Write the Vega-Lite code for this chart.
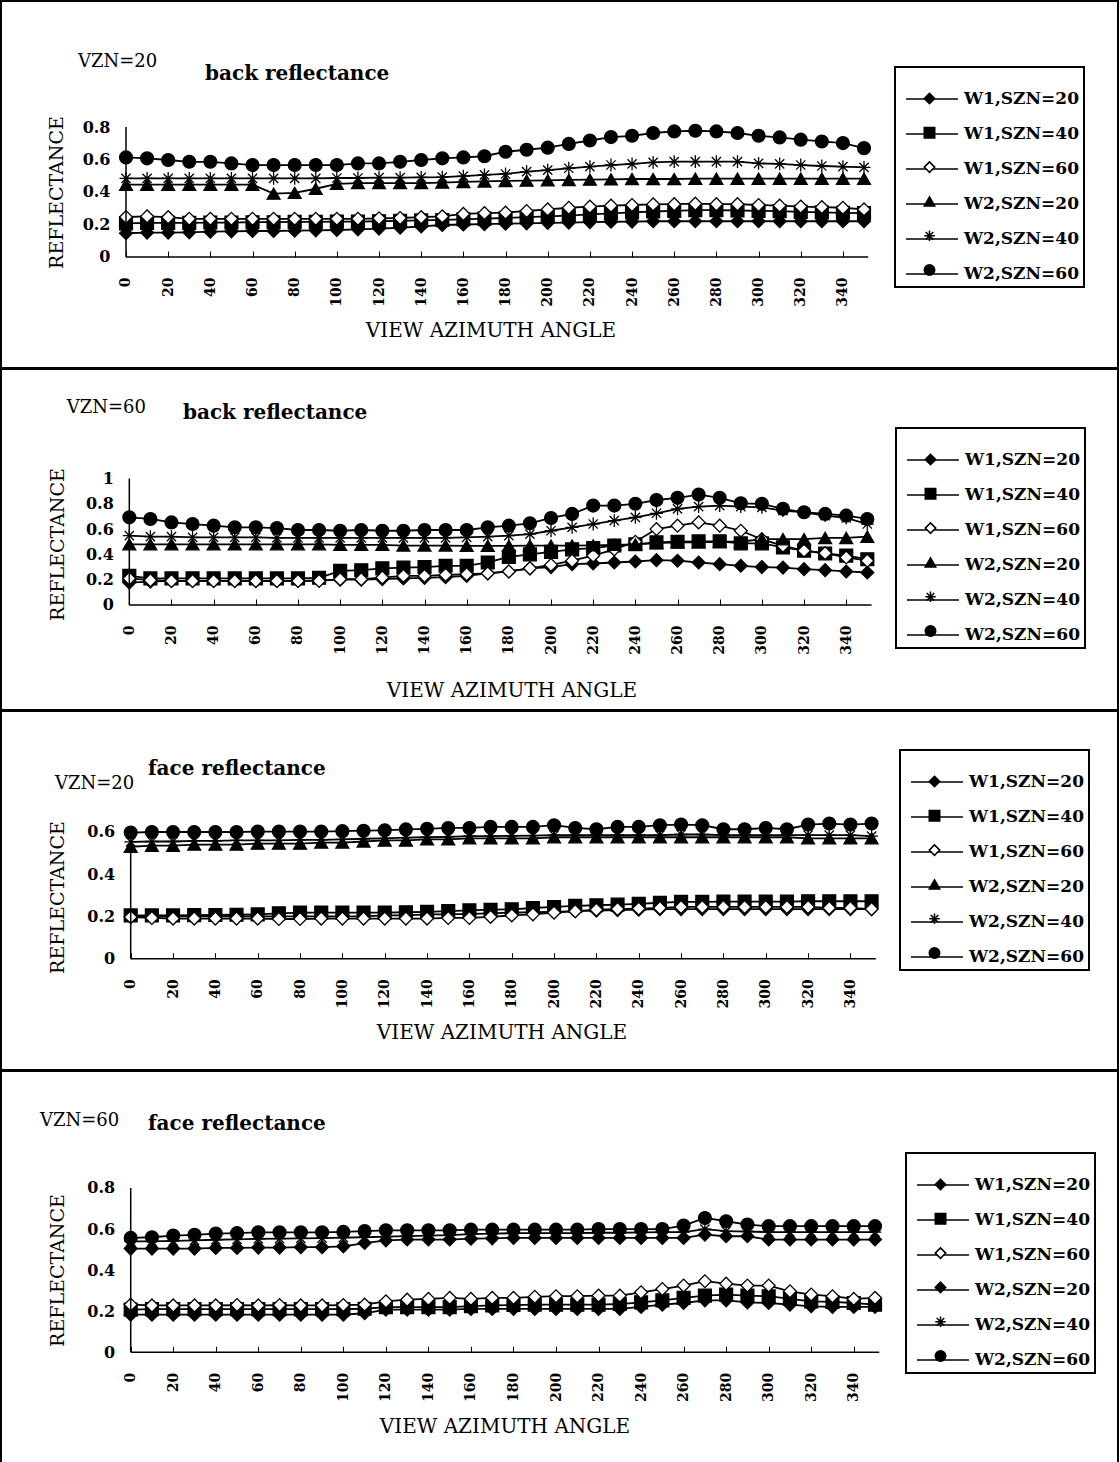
{
  "$schema": "https://vega.github.io/schema/vega-lite/v6.json",
  "background": "white",
  "padding": 0,
  "spacing": -2,
  "config": {
    "view": {"stroke": "black", "strokeWidth": 2},
    "axis": {"labelFont": "DejaVu Serif", "labelFontWeight": "bold", "labelColor": "black", "titleFont": "DejaVu Serif", "titleFontWeight": "normal", "titleColor": "black", "titleFontSize": 19, "grid": false, "domain": false, "tickColor": "black", "labelFlush": false, "labelOverlap": false, "labelBound": false, "titleAlign": "center", "titleBaseline": "middle"},
    "legend": {"strokeWidth": 2},
    "text": {"color": "black"}
  },
  "resolve": {
    "scale": {"x": "independent", "y": "independent", "shape": "independent", "fill": "independent", "stroke": "independent"},
    "legend": {"shape": "independent", "fill": "independent", "stroke": "independent"}
  },
  "datasets": {
    "p1": [
      {"series":"W1,SZN=20","az":0,"r":0.146},{"series":"W1,SZN=20","az":10,"r":0.15},{"series":"W1,SZN=20","az":20,"r":0.15},{"series":"W1,SZN=20","az":30,"r":0.152},{"series":"W1,SZN=20","az":40,"r":0.156},{"series":"W1,SZN=20","az":50,"r":0.158},{"series":"W1,SZN=20","az":60,"r":0.16},{"series":"W1,SZN=20","az":70,"r":0.16},{"series":"W1,SZN=20","az":80,"r":0.162},{"series":"W1,SZN=20","az":90,"r":0.164},{"series":"W1,SZN=20","az":100,"r":0.166},{"series":"W1,SZN=20","az":110,"r":0.17},{"series":"W1,SZN=20","az":120,"r":0.175},{"series":"W1,SZN=20","az":130,"r":0.18},{"series":"W1,SZN=20","az":140,"r":0.188},{"series":"W1,SZN=20","az":150,"r":0.197},{"series":"W1,SZN=20","az":160,"r":0.2},{"series":"W1,SZN=20","az":170,"r":0.202},{"series":"W1,SZN=20","az":180,"r":0.205},{"series":"W1,SZN=20","az":190,"r":0.207},{"series":"W1,SZN=20","az":200,"r":0.21},{"series":"W1,SZN=20","az":210,"r":0.212},{"series":"W1,SZN=20","az":220,"r":0.215},{"series":"W1,SZN=20","az":230,"r":0.217},{"series":"W1,SZN=20","az":240,"r":0.218},{"series":"W1,SZN=20","az":250,"r":0.22},{"series":"W1,SZN=20","az":260,"r":0.22},{"series":"W1,SZN=20","az":270,"r":0.22},{"series":"W1,SZN=20","az":280,"r":0.22},{"series":"W1,SZN=20","az":290,"r":0.22},{"series":"W1,SZN=20","az":300,"r":0.22},{"series":"W1,SZN=20","az":310,"r":0.22},{"series":"W1,SZN=20","az":320,"r":0.22},{"series":"W1,SZN=20","az":330,"r":0.22},{"series":"W1,SZN=20","az":340,"r":0.22},{"series":"W1,SZN=20","az":350,"r":0.22},
      {"series":"W1,SZN=40","az":0,"r":0.207},{"series":"W1,SZN=40","az":10,"r":0.21},{"series":"W1,SZN=40","az":20,"r":0.21},{"series":"W1,SZN=40","az":30,"r":0.21},{"series":"W1,SZN=40","az":40,"r":0.212},{"series":"W1,SZN=40","az":50,"r":0.212},{"series":"W1,SZN=40","az":60,"r":0.214},{"series":"W1,SZN=40","az":70,"r":0.214},{"series":"W1,SZN=40","az":80,"r":0.216},{"series":"W1,SZN=40","az":90,"r":0.216},{"series":"W1,SZN=40","az":100,"r":0.218},{"series":"W1,SZN=40","az":110,"r":0.218},{"series":"W1,SZN=40","az":120,"r":0.22},{"series":"W1,SZN=40","az":130,"r":0.222},{"series":"W1,SZN=40","az":140,"r":0.225},{"series":"W1,SZN=40","az":150,"r":0.228},{"series":"W1,SZN=40","az":160,"r":0.232},{"series":"W1,SZN=40","az":170,"r":0.236},{"series":"W1,SZN=40","az":180,"r":0.24},{"series":"W1,SZN=40","az":190,"r":0.245},{"series":"W1,SZN=40","az":200,"r":0.25},{"series":"W1,SZN=40","az":210,"r":0.255},{"series":"W1,SZN=40","az":220,"r":0.262},{"series":"W1,SZN=40","az":230,"r":0.268},{"series":"W1,SZN=40","az":240,"r":0.274},{"series":"W1,SZN=40","az":250,"r":0.28},{"series":"W1,SZN=40","az":260,"r":0.284},{"series":"W1,SZN=40","az":270,"r":0.288},{"series":"W1,SZN=40","az":280,"r":0.288},{"series":"W1,SZN=40","az":290,"r":0.286},{"series":"W1,SZN=40","az":300,"r":0.284},{"series":"W1,SZN=40","az":310,"r":0.282},{"series":"W1,SZN=40","az":320,"r":0.278},{"series":"W1,SZN=40","az":330,"r":0.275},{"series":"W1,SZN=40","az":340,"r":0.272},{"series":"W1,SZN=40","az":350,"r":0.27},
      {"series":"W1,SZN=60","az":0,"r":0.246},{"series":"W1,SZN=60","az":10,"r":0.25},{"series":"W1,SZN=60","az":20,"r":0.245},{"series":"W1,SZN=60","az":30,"r":0.235},{"series":"W1,SZN=60","az":40,"r":0.235},{"series":"W1,SZN=60","az":50,"r":0.235},{"series":"W1,SZN=60","az":60,"r":0.235},{"series":"W1,SZN=60","az":70,"r":0.235},{"series":"W1,SZN=60","az":80,"r":0.235},{"series":"W1,SZN=60","az":90,"r":0.235},{"series":"W1,SZN=60","az":100,"r":0.235},{"series":"W1,SZN=60","az":110,"r":0.235},{"series":"W1,SZN=60","az":120,"r":0.238},{"series":"W1,SZN=60","az":130,"r":0.24},{"series":"W1,SZN=60","az":140,"r":0.245},{"series":"W1,SZN=60","az":150,"r":0.25},{"series":"W1,SZN=60","az":160,"r":0.265},{"series":"W1,SZN=60","az":170,"r":0.27},{"series":"W1,SZN=60","az":180,"r":0.273},{"series":"W1,SZN=60","az":190,"r":0.283},{"series":"W1,SZN=60","az":200,"r":0.293},{"series":"W1,SZN=60","az":210,"r":0.303},{"series":"W1,SZN=60","az":220,"r":0.31},{"series":"W1,SZN=60","az":230,"r":0.316},{"series":"W1,SZN=60","az":240,"r":0.32},{"series":"W1,SZN=60","az":250,"r":0.324},{"series":"W1,SZN=60","az":260,"r":0.325},{"series":"W1,SZN=60","az":270,"r":0.328},{"series":"W1,SZN=60","az":280,"r":0.325},{"series":"W1,SZN=60","az":290,"r":0.325},{"series":"W1,SZN=60","az":300,"r":0.32},{"series":"W1,SZN=60","az":310,"r":0.316},{"series":"W1,SZN=60","az":320,"r":0.31},{"series":"W1,SZN=60","az":330,"r":0.307},{"series":"W1,SZN=60","az":340,"r":0.303},{"series":"W1,SZN=60","az":350,"r":0.293},
      {"series":"W2,SZN=20","az":0,"r":0.445},{"series":"W2,SZN=20","az":10,"r":0.445},{"series":"W2,SZN=20","az":20,"r":0.445},{"series":"W2,SZN=20","az":30,"r":0.445},{"series":"W2,SZN=20","az":40,"r":0.445},{"series":"W2,SZN=20","az":50,"r":0.445},{"series":"W2,SZN=20","az":60,"r":0.445},{"series":"W2,SZN=20","az":70,"r":0.39},{"series":"W2,SZN=20","az":80,"r":0.395},{"series":"W2,SZN=20","az":90,"r":0.42},{"series":"W2,SZN=20","az":100,"r":0.45},{"series":"W2,SZN=20","az":110,"r":0.455},{"series":"W2,SZN=20","az":120,"r":0.455},{"series":"W2,SZN=20","az":130,"r":0.455},{"series":"W2,SZN=20","az":140,"r":0.455},{"series":"W2,SZN=20","az":150,"r":0.458},{"series":"W2,SZN=20","az":160,"r":0.462},{"series":"W2,SZN=20","az":170,"r":0.465},{"series":"W2,SZN=20","az":180,"r":0.468},{"series":"W2,SZN=20","az":190,"r":0.47},{"series":"W2,SZN=20","az":200,"r":0.472},{"series":"W2,SZN=20","az":210,"r":0.474},{"series":"W2,SZN=20","az":220,"r":0.476},{"series":"W2,SZN=20","az":230,"r":0.478},{"series":"W2,SZN=20","az":240,"r":0.48},{"series":"W2,SZN=20","az":250,"r":0.48},{"series":"W2,SZN=20","az":260,"r":0.48},{"series":"W2,SZN=20","az":270,"r":0.482},{"series":"W2,SZN=20","az":280,"r":0.482},{"series":"W2,SZN=20","az":290,"r":0.482},{"series":"W2,SZN=20","az":300,"r":0.482},{"series":"W2,SZN=20","az":310,"r":0.482},{"series":"W2,SZN=20","az":320,"r":0.482},{"series":"W2,SZN=20","az":330,"r":0.482},{"series":"W2,SZN=20","az":340,"r":0.482},{"series":"W2,SZN=20","az":350,"r":0.482},
      {"series":"W2,SZN=40","az":0,"r":0.484},{"series":"W2,SZN=40","az":10,"r":0.484},{"series":"W2,SZN=40","az":20,"r":0.484},{"series":"W2,SZN=40","az":30,"r":0.484},{"series":"W2,SZN=40","az":40,"r":0.484},{"series":"W2,SZN=40","az":50,"r":0.484},{"series":"W2,SZN=40","az":60,"r":0.484},{"series":"W2,SZN=40","az":70,"r":0.484},{"series":"W2,SZN=40","az":80,"r":0.484},{"series":"W2,SZN=40","az":90,"r":0.484},{"series":"W2,SZN=40","az":100,"r":0.486},{"series":"W2,SZN=40","az":110,"r":0.486},{"series":"W2,SZN=40","az":120,"r":0.488},{"series":"W2,SZN=40","az":130,"r":0.488},{"series":"W2,SZN=40","az":140,"r":0.49},{"series":"W2,SZN=40","az":150,"r":0.492},{"series":"W2,SZN=40","az":160,"r":0.498},{"series":"W2,SZN=40","az":170,"r":0.505},{"series":"W2,SZN=40","az":180,"r":0.511},{"series":"W2,SZN=40","az":190,"r":0.525},{"series":"W2,SZN=40","az":200,"r":0.535},{"series":"W2,SZN=40","az":210,"r":0.546},{"series":"W2,SZN=40","az":220,"r":0.556},{"series":"W2,SZN=40","az":230,"r":0.566},{"series":"W2,SZN=40","az":240,"r":0.573},{"series":"W2,SZN=40","az":250,"r":0.582},{"series":"W2,SZN=40","az":260,"r":0.587},{"series":"W2,SZN=40","az":270,"r":0.587},{"series":"W2,SZN=40","az":280,"r":0.587},{"series":"W2,SZN=40","az":290,"r":0.587},{"series":"W2,SZN=40","az":300,"r":0.576},{"series":"W2,SZN=40","az":310,"r":0.573},{"series":"W2,SZN=40","az":320,"r":0.566},{"series":"W2,SZN=40","az":330,"r":0.56},{"series":"W2,SZN=40","az":340,"r":0.556},{"series":"W2,SZN=40","az":350,"r":0.552},
      {"series":"W2,SZN=60","az":0,"r":0.613},{"series":"W2,SZN=60","az":10,"r":0.607},{"series":"W2,SZN=60","az":20,"r":0.597},{"series":"W2,SZN=60","az":30,"r":0.586},{"series":"W2,SZN=60","az":40,"r":0.586},{"series":"W2,SZN=60","az":50,"r":0.576},{"series":"W2,SZN=60","az":60,"r":0.566},{"series":"W2,SZN=60","az":70,"r":0.566},{"series":"W2,SZN=60","az":80,"r":0.566},{"series":"W2,SZN=60","az":90,"r":0.566},{"series":"W2,SZN=60","az":100,"r":0.566},{"series":"W2,SZN=60","az":110,"r":0.576},{"series":"W2,SZN=60","az":120,"r":0.576},{"series":"W2,SZN=60","az":130,"r":0.586},{"series":"W2,SZN=60","az":140,"r":0.597},{"series":"W2,SZN=60","az":150,"r":0.607},{"series":"W2,SZN=60","az":160,"r":0.613},{"series":"W2,SZN=60","az":170,"r":0.62},{"series":"W2,SZN=60","az":180,"r":0.648},{"series":"W2,SZN=60","az":190,"r":0.66},{"series":"W2,SZN=60","az":200,"r":0.673},{"series":"W2,SZN=60","az":210,"r":0.696},{"series":"W2,SZN=60","az":220,"r":0.717},{"series":"W2,SZN=60","az":230,"r":0.738},{"series":"W2,SZN=60","az":240,"r":0.746},{"series":"W2,SZN=60","az":250,"r":0.763},{"series":"W2,SZN=60","az":260,"r":0.773},{"series":"W2,SZN=60","az":270,"r":0.777},{"series":"W2,SZN=60","az":280,"r":0.773},{"series":"W2,SZN=60","az":290,"r":0.763},{"series":"W2,SZN=60","az":300,"r":0.746},{"series":"W2,SZN=60","az":310,"r":0.736},{"series":"W2,SZN=60","az":320,"r":0.722},{"series":"W2,SZN=60","az":330,"r":0.711},{"series":"W2,SZN=60","az":340,"r":0.701},{"series":"W2,SZN=60","az":350,"r":0.67}
    ],
    "p2": [
      {"series":"W1,SZN=20","az":0,"r":0.177},{"series":"W1,SZN=20","az":10,"r":0.185},{"series":"W1,SZN=20","az":20,"r":0.19},{"series":"W1,SZN=20","az":30,"r":0.19},{"series":"W1,SZN=20","az":40,"r":0.19},{"series":"W1,SZN=20","az":50,"r":0.19},{"series":"W1,SZN=20","az":60,"r":0.19},{"series":"W1,SZN=20","az":70,"r":0.19},{"series":"W1,SZN=20","az":80,"r":0.19},{"series":"W1,SZN=20","az":90,"r":0.195},{"series":"W1,SZN=20","az":100,"r":0.2},{"series":"W1,SZN=20","az":110,"r":0.2},{"series":"W1,SZN=20","az":120,"r":0.205},{"series":"W1,SZN=20","az":130,"r":0.21},{"series":"W1,SZN=20","az":140,"r":0.215},{"series":"W1,SZN=20","az":150,"r":0.22},{"series":"W1,SZN=20","az":160,"r":0.23},{"series":"W1,SZN=20","az":170,"r":0.25},{"series":"W1,SZN=20","az":180,"r":0.265},{"series":"W1,SZN=20","az":190,"r":0.29},{"series":"W1,SZN=20","az":200,"r":0.3},{"series":"W1,SZN=20","az":210,"r":0.323},{"series":"W1,SZN=20","az":220,"r":0.328},{"series":"W1,SZN=20","az":230,"r":0.336},{"series":"W1,SZN=20","az":240,"r":0.344},{"series":"W1,SZN=20","az":250,"r":0.354},{"series":"W1,SZN=20","az":260,"r":0.35},{"series":"W1,SZN=20","az":270,"r":0.336},{"series":"W1,SZN=20","az":280,"r":0.323},{"series":"W1,SZN=20","az":290,"r":0.31},{"series":"W1,SZN=20","az":300,"r":0.3},{"series":"W1,SZN=20","az":310,"r":0.296},{"series":"W1,SZN=20","az":320,"r":0.283},{"series":"W1,SZN=20","az":330,"r":0.275},{"series":"W1,SZN=20","az":340,"r":0.265},{"series":"W1,SZN=20","az":350,"r":0.257},
      {"series":"W1,SZN=40","az":0,"r":0.23},{"series":"W1,SZN=40","az":10,"r":0.21},{"series":"W1,SZN=40","az":20,"r":0.21},{"series":"W1,SZN=40","az":30,"r":0.21},{"series":"W1,SZN=40","az":40,"r":0.21},{"series":"W1,SZN=40","az":50,"r":0.21},{"series":"W1,SZN=40","az":60,"r":0.21},{"series":"W1,SZN=40","az":70,"r":0.21},{"series":"W1,SZN=40","az":80,"r":0.21},{"series":"W1,SZN=40","az":90,"r":0.215},{"series":"W1,SZN=40","az":100,"r":0.27},{"series":"W1,SZN=40","az":110,"r":0.275},{"series":"W1,SZN=40","az":120,"r":0.29},{"series":"W1,SZN=40","az":130,"r":0.296},{"series":"W1,SZN=40","az":140,"r":0.3},{"series":"W1,SZN=40","az":150,"r":0.31},{"series":"W1,SZN=40","az":160,"r":0.31},{"series":"W1,SZN=40","az":170,"r":0.336},{"series":"W1,SZN=40","az":180,"r":0.38},{"series":"W1,SZN=40","az":190,"r":0.4},{"series":"W1,SZN=40","az":200,"r":0.42},{"series":"W1,SZN=40","az":210,"r":0.44},{"series":"W1,SZN=40","az":220,"r":0.45},{"series":"W1,SZN=40","az":230,"r":0.47},{"series":"W1,SZN=40","az":240,"r":0.48},{"series":"W1,SZN=40","az":250,"r":0.495},{"series":"W1,SZN=40","az":260,"r":0.5},{"series":"W1,SZN=40","az":270,"r":0.503},{"series":"W1,SZN=40","az":280,"r":0.503},{"series":"W1,SZN=40","az":290,"r":0.487},{"series":"W1,SZN=40","az":300,"r":0.487},{"series":"W1,SZN=40","az":310,"r":0.455},{"series":"W1,SZN=40","az":320,"r":0.43},{"series":"W1,SZN=40","az":330,"r":0.407},{"series":"W1,SZN=40","az":340,"r":0.39},{"series":"W1,SZN=40","az":350,"r":0.362},
      {"series":"W1,SZN=60","az":0,"r":0.21},{"series":"W1,SZN=60","az":10,"r":0.196},{"series":"W1,SZN=60","az":20,"r":0.19},{"series":"W1,SZN=60","az":30,"r":0.19},{"series":"W1,SZN=60","az":40,"r":0.19},{"series":"W1,SZN=60","az":50,"r":0.19},{"series":"W1,SZN=60","az":60,"r":0.19},{"series":"W1,SZN=60","az":70,"r":0.19},{"series":"W1,SZN=60","az":80,"r":0.19},{"series":"W1,SZN=60","az":90,"r":0.19},{"series":"W1,SZN=60","az":100,"r":0.204},{"series":"W1,SZN=60","az":110,"r":0.204},{"series":"W1,SZN=60","az":120,"r":0.217},{"series":"W1,SZN=60","az":130,"r":0.23},{"series":"W1,SZN=60","az":140,"r":0.23},{"series":"W1,SZN=60","az":150,"r":0.238},{"series":"W1,SZN=60","az":160,"r":0.243},{"series":"W1,SZN=60","az":170,"r":0.25},{"series":"W1,SZN=60","az":180,"r":0.265},{"series":"W1,SZN=60","az":190,"r":0.29},{"series":"W1,SZN=60","az":200,"r":0.317},{"series":"W1,SZN=60","az":210,"r":0.35},{"series":"W1,SZN=60","az":220,"r":0.39},{"series":"W1,SZN=60","az":230,"r":0.44},{"series":"W1,SZN=60","az":240,"r":0.5},{"series":"W1,SZN=60","az":250,"r":0.6},{"series":"W1,SZN=60","az":260,"r":0.627},{"series":"W1,SZN=60","az":270,"r":0.653},{"series":"W1,SZN=60","az":280,"r":0.627},{"series":"W1,SZN=60","az":290,"r":0.587},{"series":"W1,SZN=60","az":300,"r":0.52},{"series":"W1,SZN=60","az":310,"r":0.468},{"series":"W1,SZN=60","az":320,"r":0.43},{"series":"W1,SZN=60","az":330,"r":0.41},{"series":"W1,SZN=60","az":340,"r":0.376},{"series":"W1,SZN=60","az":350,"r":0.35},
      {"series":"W2,SZN=20","az":0,"r":0.48},{"series":"W2,SZN=20","az":10,"r":0.48},{"series":"W2,SZN=20","az":20,"r":0.48},{"series":"W2,SZN=20","az":30,"r":0.48},{"series":"W2,SZN=20","az":40,"r":0.48},{"series":"W2,SZN=20","az":50,"r":0.48},{"series":"W2,SZN=20","az":60,"r":0.48},{"series":"W2,SZN=20","az":70,"r":0.48},{"series":"W2,SZN=20","az":80,"r":0.48},{"series":"W2,SZN=20","az":90,"r":0.48},{"series":"W2,SZN=20","az":100,"r":0.475},{"series":"W2,SZN=20","az":110,"r":0.475},{"series":"W2,SZN=20","az":120,"r":0.475},{"series":"W2,SZN=20","az":130,"r":0.47},{"series":"W2,SZN=20","az":140,"r":0.47},{"series":"W2,SZN=20","az":150,"r":0.47},{"series":"W2,SZN=20","az":160,"r":0.468},{"series":"W2,SZN=20","az":170,"r":0.468},{"series":"W2,SZN=20","az":180,"r":0.468},{"series":"W2,SZN=20","az":190,"r":0.47},{"series":"W2,SZN=20","az":200,"r":0.47},{"series":"W2,SZN=20","az":210,"r":0.47},{"series":"W2,SZN=20","az":220,"r":0.472},{"series":"W2,SZN=20","az":230,"r":0.475},{"series":"W2,SZN=20","az":240,"r":0.48},{"series":"W2,SZN=20","az":250,"r":0.49},{"series":"W2,SZN=20","az":260,"r":0.495},{"series":"W2,SZN=20","az":270,"r":0.495},{"series":"W2,SZN=20","az":280,"r":0.5},{"series":"W2,SZN=20","az":290,"r":0.5},{"series":"W2,SZN=20","az":300,"r":0.52},{"series":"W2,SZN=20","az":310,"r":0.52},{"series":"W2,SZN=20","az":320,"r":0.52},{"series":"W2,SZN=20","az":330,"r":0.53},{"series":"W2,SZN=20","az":340,"r":0.53},{"series":"W2,SZN=20","az":350,"r":0.54},
      {"series":"W2,SZN=40","az":0,"r":0.548},{"series":"W2,SZN=40","az":10,"r":0.54},{"series":"W2,SZN=40","az":20,"r":0.54},{"series":"W2,SZN=40","az":30,"r":0.535},{"series":"W2,SZN=40","az":40,"r":0.535},{"series":"W2,SZN=40","az":50,"r":0.535},{"series":"W2,SZN=40","az":60,"r":0.535},{"series":"W2,SZN=40","az":70,"r":0.53},{"series":"W2,SZN=40","az":80,"r":0.53},{"series":"W2,SZN=40","az":90,"r":0.53},{"series":"W2,SZN=40","az":100,"r":0.53},{"series":"W2,SZN=40","az":110,"r":0.53},{"series":"W2,SZN=40","az":120,"r":0.53},{"series":"W2,SZN=40","az":130,"r":0.53},{"series":"W2,SZN=40","az":140,"r":0.53},{"series":"W2,SZN=40","az":150,"r":0.53},{"series":"W2,SZN=40","az":160,"r":0.534},{"series":"W2,SZN=40","az":170,"r":0.54},{"series":"W2,SZN=40","az":180,"r":0.548},{"series":"W2,SZN=40","az":190,"r":0.56},{"series":"W2,SZN=40","az":200,"r":0.587},{"series":"W2,SZN=40","az":210,"r":0.614},{"series":"W2,SZN=40","az":220,"r":0.64},{"series":"W2,SZN=40","az":230,"r":0.667},{"series":"W2,SZN=40","az":240,"r":0.693},{"series":"W2,SZN=40","az":250,"r":0.725},{"series":"W2,SZN=40","az":260,"r":0.76},{"series":"W2,SZN=40","az":270,"r":0.778},{"series":"W2,SZN=40","az":280,"r":0.786},{"series":"W2,SZN=40","az":290,"r":0.778},{"series":"W2,SZN=40","az":300,"r":0.772},{"series":"W2,SZN=40","az":310,"r":0.746},{"series":"W2,SZN=40","az":320,"r":0.733},{"series":"W2,SZN=40","az":330,"r":0.706},{"series":"W2,SZN=40","az":340,"r":0.688},{"series":"W2,SZN=40","az":350,"r":0.64},
      {"series":"W2,SZN=60","az":0,"r":0.693},{"series":"W2,SZN=60","az":10,"r":0.68},{"series":"W2,SZN=60","az":20,"r":0.653},{"series":"W2,SZN=60","az":30,"r":0.64},{"series":"W2,SZN=60","az":40,"r":0.627},{"series":"W2,SZN=60","az":50,"r":0.614},{"series":"W2,SZN=60","az":60,"r":0.614},{"series":"W2,SZN=60","az":70,"r":0.608},{"series":"W2,SZN=60","az":80,"r":0.593},{"series":"W2,SZN=60","az":90,"r":0.593},{"series":"W2,SZN=60","az":100,"r":0.587},{"series":"W2,SZN=60","az":110,"r":0.593},{"series":"W2,SZN=60","az":120,"r":0.587},{"series":"W2,SZN=60","az":130,"r":0.587},{"series":"W2,SZN=60","az":140,"r":0.593},{"series":"W2,SZN=60","az":150,"r":0.593},{"series":"W2,SZN=60","az":160,"r":0.593},{"series":"W2,SZN=60","az":170,"r":0.614},{"series":"W2,SZN=60","az":180,"r":0.627},{"series":"W2,SZN=60","az":190,"r":0.646},{"series":"W2,SZN=60","az":200,"r":0.688},{"series":"W2,SZN=60","az":210,"r":0.72},{"series":"W2,SZN=60","az":220,"r":0.786},{"series":"W2,SZN=60","az":230,"r":0.786},{"series":"W2,SZN=60","az":240,"r":0.8},{"series":"W2,SZN=60","az":250,"r":0.83},{"series":"W2,SZN=60","az":260,"r":0.847},{"series":"W2,SZN=60","az":270,"r":0.873},{"series":"W2,SZN=60","az":280,"r":0.847},{"series":"W2,SZN=60","az":290,"r":0.804},{"series":"W2,SZN=60","az":300,"r":0.8},{"series":"W2,SZN=60","az":310,"r":0.76},{"series":"W2,SZN=60","az":320,"r":0.733},{"series":"W2,SZN=60","az":330,"r":0.72},{"series":"W2,SZN=60","az":340,"r":0.706},{"series":"W2,SZN=60","az":350,"r":0.68}
    ],
    "p3": [
      {"series":"W1,SZN=20","az":0,"r":0.2},{"series":"W1,SZN=20","az":10,"r":0.2},{"series":"W1,SZN=20","az":20,"r":0.2},{"series":"W1,SZN=20","az":30,"r":0.2},{"series":"W1,SZN=20","az":40,"r":0.2},{"series":"W1,SZN=20","az":50,"r":0.2},{"series":"W1,SZN=20","az":60,"r":0.2},{"series":"W1,SZN=20","az":70,"r":0.2},{"series":"W1,SZN=20","az":80,"r":0.2},{"series":"W1,SZN=20","az":90,"r":0.2},{"series":"W1,SZN=20","az":100,"r":0.2},{"series":"W1,SZN=20","az":110,"r":0.2},{"series":"W1,SZN=20","az":120,"r":0.205},{"series":"W1,SZN=20","az":130,"r":0.205},{"series":"W1,SZN=20","az":140,"r":0.21},{"series":"W1,SZN=20","az":150,"r":0.21},{"series":"W1,SZN=20","az":160,"r":0.212},{"series":"W1,SZN=20","az":170,"r":0.215},{"series":"W1,SZN=20","az":180,"r":0.218},{"series":"W1,SZN=20","az":190,"r":0.22},{"series":"W1,SZN=20","az":200,"r":0.222},{"series":"W1,SZN=20","az":210,"r":0.225},{"series":"W1,SZN=20","az":220,"r":0.228},{"series":"W1,SZN=20","az":230,"r":0.23},{"series":"W1,SZN=20","az":240,"r":0.232},{"series":"W1,SZN=20","az":250,"r":0.235},{"series":"W1,SZN=20","az":260,"r":0.235},{"series":"W1,SZN=20","az":270,"r":0.235},{"series":"W1,SZN=20","az":280,"r":0.235},{"series":"W1,SZN=20","az":290,"r":0.235},{"series":"W1,SZN=20","az":300,"r":0.235},{"series":"W1,SZN=20","az":310,"r":0.235},{"series":"W1,SZN=20","az":320,"r":0.235},{"series":"W1,SZN=20","az":330,"r":0.235},{"series":"W1,SZN=20","az":340,"r":0.235},{"series":"W1,SZN=20","az":350,"r":0.235},
      {"series":"W1,SZN=40","az":0,"r":0.205},{"series":"W1,SZN=40","az":10,"r":0.205},{"series":"W1,SZN=40","az":20,"r":0.205},{"series":"W1,SZN=40","az":30,"r":0.206},{"series":"W1,SZN=40","az":40,"r":0.207},{"series":"W1,SZN=40","az":50,"r":0.208},{"series":"W1,SZN=40","az":60,"r":0.21},{"series":"W1,SZN=40","az":70,"r":0.215},{"series":"W1,SZN=40","az":80,"r":0.218},{"series":"W1,SZN=40","az":90,"r":0.218},{"series":"W1,SZN=40","az":100,"r":0.218},{"series":"W1,SZN=40","az":110,"r":0.218},{"series":"W1,SZN=40","az":120,"r":0.218},{"series":"W1,SZN=40","az":130,"r":0.22},{"series":"W1,SZN=40","az":140,"r":0.222},{"series":"W1,SZN=40","az":150,"r":0.225},{"series":"W1,SZN=40","az":160,"r":0.229},{"series":"W1,SZN=40","az":170,"r":0.232},{"series":"W1,SZN=40","az":180,"r":0.234},{"series":"W1,SZN=40","az":190,"r":0.24},{"series":"W1,SZN=40","az":200,"r":0.245},{"series":"W1,SZN=40","az":210,"r":0.25},{"series":"W1,SZN=40","az":220,"r":0.253},{"series":"W1,SZN=40","az":230,"r":0.256},{"series":"W1,SZN=40","az":240,"r":0.26},{"series":"W1,SZN=40","az":250,"r":0.265},{"series":"W1,SZN=40","az":260,"r":0.269},{"series":"W1,SZN=40","az":270,"r":0.269},{"series":"W1,SZN=40","az":280,"r":0.27},{"series":"W1,SZN=40","az":290,"r":0.27},{"series":"W1,SZN=40","az":300,"r":0.27},{"series":"W1,SZN=40","az":310,"r":0.27},{"series":"W1,SZN=40","az":320,"r":0.272},{"series":"W1,SZN=40","az":330,"r":0.272},{"series":"W1,SZN=40","az":340,"r":0.272},{"series":"W1,SZN=40","az":350,"r":0.272},
      {"series":"W1,SZN=60","az":0,"r":0.197},{"series":"W1,SZN=60","az":10,"r":0.193},{"series":"W1,SZN=60","az":20,"r":0.19},{"series":"W1,SZN=60","az":30,"r":0.19},{"series":"W1,SZN=60","az":40,"r":0.19},{"series":"W1,SZN=60","az":50,"r":0.19},{"series":"W1,SZN=60","az":60,"r":0.19},{"series":"W1,SZN=60","az":70,"r":0.188},{"series":"W1,SZN=60","az":80,"r":0.188},{"series":"W1,SZN=60","az":90,"r":0.19},{"series":"W1,SZN=60","az":100,"r":0.19},{"series":"W1,SZN=60","az":110,"r":0.19},{"series":"W1,SZN=60","az":120,"r":0.19},{"series":"W1,SZN=60","az":130,"r":0.19},{"series":"W1,SZN=60","az":140,"r":0.19},{"series":"W1,SZN=60","az":150,"r":0.193},{"series":"W1,SZN=60","az":160,"r":0.193},{"series":"W1,SZN=60","az":170,"r":0.198},{"series":"W1,SZN=60","az":180,"r":0.205},{"series":"W1,SZN=60","az":190,"r":0.21},{"series":"W1,SZN=60","az":200,"r":0.218},{"series":"W1,SZN=60","az":210,"r":0.225},{"series":"W1,SZN=60","az":220,"r":0.232},{"series":"W1,SZN=60","az":230,"r":0.235},{"series":"W1,SZN=60","az":240,"r":0.237},{"series":"W1,SZN=60","az":250,"r":0.24},{"series":"W1,SZN=60","az":260,"r":0.245},{"series":"W1,SZN=60","az":270,"r":0.245},{"series":"W1,SZN=60","az":280,"r":0.245},{"series":"W1,SZN=60","az":290,"r":0.245},{"series":"W1,SZN=60","az":300,"r":0.245},{"series":"W1,SZN=60","az":310,"r":0.245},{"series":"W1,SZN=60","az":320,"r":0.245},{"series":"W1,SZN=60","az":330,"r":0.24},{"series":"W1,SZN=60","az":340,"r":0.24},{"series":"W1,SZN=60","az":350,"r":0.235},
      {"series":"W2,SZN=20","az":0,"r":0.53},{"series":"W2,SZN=20","az":10,"r":0.535},{"series":"W2,SZN=20","az":20,"r":0.535},{"series":"W2,SZN=20","az":30,"r":0.54},{"series":"W2,SZN=20","az":40,"r":0.54},{"series":"W2,SZN=20","az":50,"r":0.54},{"series":"W2,SZN=20","az":60,"r":0.545},{"series":"W2,SZN=20","az":70,"r":0.545},{"series":"W2,SZN=20","az":80,"r":0.545},{"series":"W2,SZN=20","az":90,"r":0.55},{"series":"W2,SZN=20","az":100,"r":0.55},{"series":"W2,SZN=20","az":110,"r":0.555},{"series":"W2,SZN=20","az":120,"r":0.56},{"series":"W2,SZN=20","az":130,"r":0.56},{"series":"W2,SZN=20","az":140,"r":0.565},{"series":"W2,SZN=20","az":150,"r":0.565},{"series":"W2,SZN=20","az":160,"r":0.57},{"series":"W2,SZN=20","az":170,"r":0.57},{"series":"W2,SZN=20","az":180,"r":0.57},{"series":"W2,SZN=20","az":190,"r":0.57},{"series":"W2,SZN=20","az":200,"r":0.575},{"series":"W2,SZN=20","az":210,"r":0.575},{"series":"W2,SZN=20","az":220,"r":0.575},{"series":"W2,SZN=20","az":230,"r":0.575},{"series":"W2,SZN=20","az":240,"r":0.575},{"series":"W2,SZN=20","az":250,"r":0.575},{"series":"W2,SZN=20","az":260,"r":0.575},{"series":"W2,SZN=20","az":270,"r":0.575},{"series":"W2,SZN=20","az":280,"r":0.575},{"series":"W2,SZN=20","az":290,"r":0.575},{"series":"W2,SZN=20","az":300,"r":0.575},{"series":"W2,SZN=20","az":310,"r":0.575},{"series":"W2,SZN=20","az":320,"r":0.57},{"series":"W2,SZN=20","az":330,"r":0.57},{"series":"W2,SZN=20","az":340,"r":0.57},{"series":"W2,SZN=20","az":350,"r":0.57},
      {"series":"W2,SZN=40","az":0,"r":0.553},{"series":"W2,SZN=40","az":10,"r":0.555},{"series":"W2,SZN=40","az":20,"r":0.555},{"series":"W2,SZN=40","az":30,"r":0.558},{"series":"W2,SZN=40","az":40,"r":0.558},{"series":"W2,SZN=40","az":50,"r":0.56},{"series":"W2,SZN=40","az":60,"r":0.56},{"series":"W2,SZN=40","az":70,"r":0.56},{"series":"W2,SZN=40","az":80,"r":0.563},{"series":"W2,SZN=40","az":90,"r":0.563},{"series":"W2,SZN=40","az":100,"r":0.565},{"series":"W2,SZN=40","az":110,"r":0.568},{"series":"W2,SZN=40","az":120,"r":0.57},{"series":"W2,SZN=40","az":130,"r":0.573},{"series":"W2,SZN=40","az":140,"r":0.575},{"series":"W2,SZN=40","az":150,"r":0.577},{"series":"W2,SZN=40","az":160,"r":0.58},{"series":"W2,SZN=40","az":170,"r":0.58},{"series":"W2,SZN=40","az":180,"r":0.582},{"series":"W2,SZN=40","az":190,"r":0.583},{"series":"W2,SZN=40","az":200,"r":0.585},{"series":"W2,SZN=40","az":210,"r":0.585},{"series":"W2,SZN=40","az":220,"r":0.585},{"series":"W2,SZN=40","az":230,"r":0.585},{"series":"W2,SZN=40","az":240,"r":0.585},{"series":"W2,SZN=40","az":250,"r":0.585},{"series":"W2,SZN=40","az":260,"r":0.588},{"series":"W2,SZN=40","az":270,"r":0.588},{"series":"W2,SZN=40","az":280,"r":0.585},{"series":"W2,SZN=40","az":290,"r":0.585},{"series":"W2,SZN=40","az":300,"r":0.585},{"series":"W2,SZN=40","az":310,"r":0.585},{"series":"W2,SZN=40","az":320,"r":0.585},{"series":"W2,SZN=40","az":330,"r":0.585},{"series":"W2,SZN=40","az":340,"r":0.585},{"series":"W2,SZN=40","az":350,"r":0.58},
      {"series":"W2,SZN=60","az":0,"r":0.597},{"series":"W2,SZN=60","az":10,"r":0.6},{"series":"W2,SZN=60","az":20,"r":0.6},{"series":"W2,SZN=60","az":30,"r":0.6},{"series":"W2,SZN=60","az":40,"r":0.6},{"series":"W2,SZN=60","az":50,"r":0.6},{"series":"W2,SZN=60","az":60,"r":0.602},{"series":"W2,SZN=60","az":70,"r":0.602},{"series":"W2,SZN=60","az":80,"r":0.602},{"series":"W2,SZN=60","az":90,"r":0.602},{"series":"W2,SZN=60","az":100,"r":0.604},{"series":"W2,SZN=60","az":110,"r":0.606},{"series":"W2,SZN=60","az":120,"r":0.608},{"series":"W2,SZN=60","az":130,"r":0.612},{"series":"W2,SZN=60","az":140,"r":0.615},{"series":"W2,SZN=60","az":150,"r":0.619},{"series":"W2,SZN=60","az":160,"r":0.619},{"series":"W2,SZN=60","az":170,"r":0.624},{"series":"W2,SZN=60","az":180,"r":0.624},{"series":"W2,SZN=60","az":190,"r":0.624},{"series":"W2,SZN=60","az":200,"r":0.632},{"series":"W2,SZN=60","az":210,"r":0.619},{"series":"W2,SZN=60","az":220,"r":0.613},{"series":"W2,SZN=60","az":230,"r":0.624},{"series":"W2,SZN=60","az":240,"r":0.624},{"series":"W2,SZN=60","az":250,"r":0.632},{"series":"W2,SZN=60","az":260,"r":0.635},{"series":"W2,SZN=60","az":270,"r":0.632},{"series":"W2,SZN=60","az":280,"r":0.613},{"series":"W2,SZN=60","az":290,"r":0.613},{"series":"W2,SZN=60","az":300,"r":0.619},{"series":"W2,SZN=60","az":310,"r":0.613},{"series":"W2,SZN=60","az":320,"r":0.635},{"series":"W2,SZN=60","az":330,"r":0.64},{"series":"W2,SZN=60","az":340,"r":0.635},{"series":"W2,SZN=60","az":350,"r":0.64}
    ],
    "p4": [
      {"series":"W1,SZN=20","az":0,"r":0.183},{"series":"W1,SZN=20","az":10,"r":0.183},{"series":"W1,SZN=20","az":20,"r":0.183},{"series":"W1,SZN=20","az":30,"r":0.183},{"series":"W1,SZN=20","az":40,"r":0.183},{"series":"W1,SZN=20","az":50,"r":0.183},{"series":"W1,SZN=20","az":60,"r":0.183},{"series":"W1,SZN=20","az":70,"r":0.183},{"series":"W1,SZN=20","az":80,"r":0.183},{"series":"W1,SZN=20","az":90,"r":0.183},{"series":"W1,SZN=20","az":100,"r":0.183},{"series":"W1,SZN=20","az":110,"r":0.19},{"series":"W1,SZN=20","az":120,"r":0.208},{"series":"W1,SZN=20","az":130,"r":0.208},{"series":"W1,SZN=20","az":140,"r":0.208},{"series":"W1,SZN=20","az":150,"r":0.208},{"series":"W1,SZN=20","az":160,"r":0.211},{"series":"W1,SZN=20","az":170,"r":0.211},{"series":"W1,SZN=20","az":180,"r":0.211},{"series":"W1,SZN=20","az":190,"r":0.211},{"series":"W1,SZN=20","az":200,"r":0.211},{"series":"W1,SZN=20","az":210,"r":0.211},{"series":"W1,SZN=20","az":220,"r":0.211},{"series":"W1,SZN=20","az":230,"r":0.211},{"series":"W1,SZN=20","az":240,"r":0.221},{"series":"W1,SZN=20","az":250,"r":0.232},{"series":"W1,SZN=20","az":260,"r":0.24},{"series":"W1,SZN=20","az":270,"r":0.253},{"series":"W1,SZN=20","az":280,"r":0.253},{"series":"W1,SZN=20","az":290,"r":0.243},{"series":"W1,SZN=20","az":300,"r":0.24},{"series":"W1,SZN=20","az":310,"r":0.232},{"series":"W1,SZN=20","az":320,"r":0.224},{"series":"W1,SZN=20","az":330,"r":0.221},{"series":"W1,SZN=20","az":340,"r":0.221},{"series":"W1,SZN=20","az":350,"r":0.221},
      {"series":"W1,SZN=40","az":0,"r":0.208},{"series":"W1,SZN=40","az":10,"r":0.21},{"series":"W1,SZN=40","az":20,"r":0.21},{"series":"W1,SZN=40","az":30,"r":0.21},{"series":"W1,SZN=40","az":40,"r":0.21},{"series":"W1,SZN=40","az":50,"r":0.21},{"series":"W1,SZN=40","az":60,"r":0.21},{"series":"W1,SZN=40","az":70,"r":0.21},{"series":"W1,SZN=40","az":80,"r":0.21},{"series":"W1,SZN=40","az":90,"r":0.21},{"series":"W1,SZN=40","az":100,"r":0.21},{"series":"W1,SZN=40","az":110,"r":0.212},{"series":"W1,SZN=40","az":120,"r":0.22},{"series":"W1,SZN=40","az":130,"r":0.22},{"series":"W1,SZN=40","az":140,"r":0.22},{"series":"W1,SZN=40","az":150,"r":0.22},{"series":"W1,SZN=40","az":160,"r":0.225},{"series":"W1,SZN=40","az":170,"r":0.228},{"series":"W1,SZN=40","az":180,"r":0.23},{"series":"W1,SZN=40","az":190,"r":0.232},{"series":"W1,SZN=40","az":200,"r":0.232},{"series":"W1,SZN=40","az":210,"r":0.232},{"series":"W1,SZN=40","az":220,"r":0.232},{"series":"W1,SZN=40","az":230,"r":0.235},{"series":"W1,SZN=40","az":240,"r":0.243},{"series":"W1,SZN=40","az":250,"r":0.253},{"series":"W1,SZN=40","az":260,"r":0.265},{"series":"W1,SZN=40","az":270,"r":0.276},{"series":"W1,SZN=40","az":280,"r":0.281},{"series":"W1,SZN=40","az":290,"r":0.276},{"series":"W1,SZN=40","az":300,"r":0.273},{"series":"W1,SZN=40","az":310,"r":0.26},{"series":"W1,SZN=40","az":320,"r":0.248},{"series":"W1,SZN=40","az":330,"r":0.245},{"series":"W1,SZN=40","az":340,"r":0.24},{"series":"W1,SZN=40","az":350,"r":0.232},
      {"series":"W1,SZN=60","az":0,"r":0.232},{"series":"W1,SZN=60","az":10,"r":0.228},{"series":"W1,SZN=60","az":20,"r":0.228},{"series":"W1,SZN=60","az":30,"r":0.228},{"series":"W1,SZN=60","az":40,"r":0.228},{"series":"W1,SZN=60","az":50,"r":0.23},{"series":"W1,SZN=60","az":60,"r":0.228},{"series":"W1,SZN=60","az":70,"r":0.23},{"series":"W1,SZN=60","az":80,"r":0.228},{"series":"W1,SZN=60","az":90,"r":0.228},{"series":"W1,SZN=60","az":100,"r":0.23},{"series":"W1,SZN=60","az":110,"r":0.232},{"series":"W1,SZN=60","az":120,"r":0.248},{"series":"W1,SZN=60","az":130,"r":0.256},{"series":"W1,SZN=60","az":140,"r":0.26},{"series":"W1,SZN=60","az":150,"r":0.265},{"series":"W1,SZN=60","az":160,"r":0.26},{"series":"W1,SZN=60","az":170,"r":0.265},{"series":"W1,SZN=60","az":180,"r":0.265},{"series":"W1,SZN=60","az":190,"r":0.27},{"series":"W1,SZN=60","az":200,"r":0.273},{"series":"W1,SZN=60","az":210,"r":0.273},{"series":"W1,SZN=60","az":220,"r":0.276},{"series":"W1,SZN=60","az":230,"r":0.276},{"series":"W1,SZN=60","az":240,"r":0.292},{"series":"W1,SZN=60","az":250,"r":0.308},{"series":"W1,SZN=60","az":260,"r":0.325},{"series":"W1,SZN=60","az":270,"r":0.346},{"series":"W1,SZN=60","az":280,"r":0.334},{"series":"W1,SZN=60","az":290,"r":0.325},{"series":"W1,SZN=60","az":300,"r":0.325},{"series":"W1,SZN=60","az":310,"r":0.297},{"series":"W1,SZN=60","az":320,"r":0.281},{"series":"W1,SZN=60","az":330,"r":0.273},{"series":"W1,SZN=60","az":340,"r":0.26},{"series":"W1,SZN=60","az":350,"r":0.265},
      {"series":"W2,SZN=20","az":0,"r":0.505},{"series":"W2,SZN=20","az":10,"r":0.505},{"series":"W2,SZN=20","az":20,"r":0.505},{"series":"W2,SZN=20","az":30,"r":0.505},{"series":"W2,SZN=20","az":40,"r":0.508},{"series":"W2,SZN=20","az":50,"r":0.508},{"series":"W2,SZN=20","az":60,"r":0.51},{"series":"W2,SZN=20","az":70,"r":0.51},{"series":"W2,SZN=20","az":80,"r":0.512},{"series":"W2,SZN=20","az":90,"r":0.512},{"series":"W2,SZN=20","az":100,"r":0.516},{"series":"W2,SZN=20","az":110,"r":0.532},{"series":"W2,SZN=20","az":120,"r":0.545},{"series":"W2,SZN=20","az":130,"r":0.549},{"series":"W2,SZN=20","az":140,"r":0.549},{"series":"W2,SZN=20","az":150,"r":0.549},{"series":"W2,SZN=20","az":160,"r":0.553},{"series":"W2,SZN=20","az":170,"r":0.555},{"series":"W2,SZN=20","az":180,"r":0.557},{"series":"W2,SZN=20","az":190,"r":0.557},{"series":"W2,SZN=20","az":200,"r":0.557},{"series":"W2,SZN=20","az":210,"r":0.557},{"series":"W2,SZN=20","az":220,"r":0.557},{"series":"W2,SZN=20","az":230,"r":0.557},{"series":"W2,SZN=20","az":240,"r":0.557},{"series":"W2,SZN=20","az":250,"r":0.557},{"series":"W2,SZN=20","az":260,"r":0.557},{"series":"W2,SZN=20","az":270,"r":0.573},{"series":"W2,SZN=20","az":280,"r":0.565},{"series":"W2,SZN=20","az":290,"r":0.565},{"series":"W2,SZN=20","az":300,"r":0.549},{"series":"W2,SZN=20","az":310,"r":0.549},{"series":"W2,SZN=20","az":320,"r":0.549},{"series":"W2,SZN=20","az":330,"r":0.549},{"series":"W2,SZN=20","az":340,"r":0.549},{"series":"W2,SZN=20","az":350,"r":0.549},
      {"series":"W2,SZN=40","az":0,"r":0.54},{"series":"W2,SZN=40","az":10,"r":0.54},{"series":"W2,SZN=40","az":20,"r":0.542},{"series":"W2,SZN=40","az":30,"r":0.545},{"series":"W2,SZN=40","az":40,"r":0.548},{"series":"W2,SZN=40","az":50,"r":0.55},{"series":"W2,SZN=40","az":60,"r":0.552},{"series":"W2,SZN=40","az":70,"r":0.553},{"series":"W2,SZN=40","az":80,"r":0.555},{"series":"W2,SZN=40","az":90,"r":0.556},{"series":"W2,SZN=40","az":100,"r":0.558},{"series":"W2,SZN=40","az":110,"r":0.56},{"series":"W2,SZN=40","az":120,"r":0.563},{"series":"W2,SZN=40","az":130,"r":0.566},{"series":"W2,SZN=40","az":140,"r":0.568},{"series":"W2,SZN=40","az":150,"r":0.57},{"series":"W2,SZN=40","az":160,"r":0.575},{"series":"W2,SZN=40","az":170,"r":0.578},{"series":"W2,SZN=40","az":180,"r":0.58},{"series":"W2,SZN=40","az":190,"r":0.58},{"series":"W2,SZN=40","az":200,"r":0.58},{"series":"W2,SZN=40","az":210,"r":0.58},{"series":"W2,SZN=40","az":220,"r":0.582},{"series":"W2,SZN=40","az":230,"r":0.582},{"series":"W2,SZN=40","az":240,"r":0.584},{"series":"W2,SZN=40","az":250,"r":0.585},{"series":"W2,SZN=40","az":260,"r":0.585},{"series":"W2,SZN=40","az":270,"r":0.6},{"series":"W2,SZN=40","az":280,"r":0.59},{"series":"W2,SZN=40","az":290,"r":0.588},{"series":"W2,SZN=40","az":300,"r":0.585},{"series":"W2,SZN=40","az":310,"r":0.585},{"series":"W2,SZN=40","az":320,"r":0.585},{"series":"W2,SZN=40","az":330,"r":0.585},{"series":"W2,SZN=40","az":340,"r":0.585},{"series":"W2,SZN=40","az":350,"r":0.585},
      {"series":"W2,SZN=60","az":0,"r":0.557},{"series":"W2,SZN=60","az":10,"r":0.56},{"series":"W2,SZN=60","az":20,"r":0.568},{"series":"W2,SZN=60","az":30,"r":0.572},{"series":"W2,SZN=60","az":40,"r":0.578},{"series":"W2,SZN=60","az":50,"r":0.58},{"series":"W2,SZN=60","az":60,"r":0.584},{"series":"W2,SZN=60","az":70,"r":0.584},{"series":"W2,SZN=60","az":80,"r":0.584},{"series":"W2,SZN=60","az":90,"r":0.584},{"series":"W2,SZN=60","az":100,"r":0.586},{"series":"W2,SZN=60","az":110,"r":0.59},{"series":"W2,SZN=60","az":120,"r":0.594},{"series":"W2,SZN=60","az":130,"r":0.594},{"series":"W2,SZN=60","az":140,"r":0.594},{"series":"W2,SZN=60","az":150,"r":0.594},{"series":"W2,SZN=60","az":160,"r":0.597},{"series":"W2,SZN=60","az":170,"r":0.597},{"series":"W2,SZN=60","az":180,"r":0.597},{"series":"W2,SZN=60","az":190,"r":0.597},{"series":"W2,SZN=60","az":200,"r":0.597},{"series":"W2,SZN=60","az":210,"r":0.597},{"series":"W2,SZN=60","az":220,"r":0.6},{"series":"W2,SZN=60","az":230,"r":0.6},{"series":"W2,SZN=60","az":240,"r":0.6},{"series":"W2,SZN=60","az":250,"r":0.6},{"series":"W2,SZN=60","az":260,"r":0.617},{"series":"W2,SZN=60","az":270,"r":0.654},{"series":"W2,SZN=60","az":280,"r":0.638},{"series":"W2,SZN=60","az":290,"r":0.622},{"series":"W2,SZN=60","az":300,"r":0.614},{"series":"W2,SZN=60","az":310,"r":0.614},{"series":"W2,SZN=60","az":320,"r":0.614},{"series":"W2,SZN=60","az":330,"r":0.614},{"series":"W2,SZN=60","az":340,"r":0.614},{"series":"W2,SZN=60","az":350,"r":0.614}
    ]
  },
  "vconcat": [
    {
      "width": 1117, "height": 367,
      "layer": [
        {"data": {"name": "p1"}, "mark": {"type": "line", "strokeWidth": 1.8},
         "encoding": {
           "x": {"field": "az", "type": "quantitative", "scale": {"domain": [-59.28, 470.46], "nice": false, "zero": false},
                 "axis": {"title": "VIEW AZIMUTH ANGLE", "values": [0,10,20,30,40,50,60,70,80,90,100,110,120,130,140,150,160,170,180,190,200,210,220,230,240,250,260,270,280,290,300,310,320,330,340,350], "labelExpr": "datum.value % 20 === 0 ? datum.label : ''", "labelAngle": 270, "labelAlign": "right", "labelBaseline": "middle", "labelFontSize": 14, "tickSize": -6, "tickWidth": 1, "labelPadding": 26, "offset": -111, "titleX": 489.5, "titleY": 73, "titleFontSize": 20}},
           "y": {"field": "r", "type": "quantitative", "scale": {"domain": [-0.6831, 1.5754], "nice": false, "zero": false},
                 "axis": {"title": "REFLECTANCE", "values": [0, 0.2, 0.4, 0.6, 0.8], "format": "~g", "ticks": false, "labelFontSize": 16, "labelPadding": 16, "offset": -125, "titleX": -70, "titleY": 191}},
           "stroke": {"field": "series", "type": "nominal",
             "scale": {"domain": ["W1,SZN=20","W1,SZN=40","W1,SZN=60","W2,SZN=20","W2,SZN=40","W2,SZN=60"], "range": ["black","black","black","black","black","black"]},
             "legend": {"title": null, "orient": "none", "direction": "vertical", "legendX": 894, "legendY": 66, "strokeColor": "black", "padding": 5, "rowPadding": -0.7, "symbolType": "stroke", "symbolSize": 2700, "symbolStrokeWidth": 1.6, "symbolOffset": 5, "labelFont": "DejaVu Serif", "labelFontWeight": "bold", "labelFontSize": 17, "labelColor": "black", "labelOffset": 5, "labelLimit": 400}}
         }},
        {"data": {"name": "p1"}, "mark": {"type": "point", "filled": true, "stroke": "black", "strokeWidth": 1.3, "size": 165, "opacity": 1},
         "encoding": {
           "x": {"field": "az", "type": "quantitative"},
           "y": {"field": "r", "type": "quantitative"},
           "shape": {"field": "series", "type": "nominal", "scale": {"range": ["diamond", "square", "diamond", "triangle-up", "M-1,0L1,0M0,-1L0,1M-0.72,-0.72L0.72,0.72M-0.72,0.72L0.72,-0.72", "circle"]},
             "legend": {"title": null, "orient": "none", "direction": "vertical", "legendX": 907, "legendY": 76, "padding": 13, "rowPadding": 16.3, "symbolSize": 110, "labelExpr": "' '", "labelFont": "DejaVu Serif", "labelFontWeight": "bold", "labelFontSize": 17, "labelOffset": 3, "encode": {"symbols": {"stroke": {"value": "black"}, "strokeWidth": {"value": 1.2}}}}},
           "fill": {"field": "series", "type": "nominal", "scale": {"range": ["black", "black", "white", "black", "black", "black"]},
             "legend": {"title": null, "orient": "none", "direction": "vertical", "legendX": 907, "legendY": 76, "padding": 13, "rowPadding": 16.3, "symbolSize": 110, "labelExpr": "' '", "labelFont": "DejaVu Serif", "labelFontWeight": "bold", "labelFontSize": 17, "labelOffset": 3, "encode": {"symbols": {"stroke": {"value": "black"}, "strokeWidth": {"value": 1.2}}}}}
         }},
        {"data": {"values": [{}]}, "mark": {"type": "rule", "color": "black", "strokeWidth": 1.5},
         "encoding": {"x": {"datum": 0, "type": "quantitative"}, "x2": {"datum": 352}, "y": {"datum": 0, "type": "quantitative"}}},
        {"data": {"values": [{}]}, "mark": {"type": "rule", "color": "black", "strokeWidth": 1.5},
         "encoding": {"x": {"datum": 0, "type": "quantitative"}, "y": {"datum": 0, "type": "quantitative"}, "y2": {"datum": 0.8}}},
        {"data": {"values": [{"label": "VZN=20"}]}, "mark": {"type": "text", "align": "left", "baseline": "alphabetic", "font": "DejaVu Serif", "fontSize": 18},
         "encoding": {"text": {"field": "label"}, "x": {"datum": -22.76, "type": "quantitative"}, "y": {"datum": 1.169, "type": "quantitative"}}},
        {"data": {"values": [{"label": "back reflectance"}]}, "mark": {"type": "text", "align": "left", "baseline": "alphabetic", "font": "DejaVu Serif", "fontWeight": "bold", "fontSize": 20},
         "encoding": {"text": {"field": "label"}, "x": {"datum": 37.47, "type": "quantitative"}, "y": {"datum": 1.089, "type": "quantitative"}}}
      ]
    },
    {
      "width": 1117, "height": 341,
      "layer": [
        {"data": {"name": "p2"}, "mark": {"type": "line", "strokeWidth": 1.8},
         "encoding": {
           "x": {"field": "az", "type": "quantitative", "scale": {"domain": [-60.85, 468.89], "nice": false, "zero": false},
                 "axis": {"title": "VIEW AZIMUTH ANGLE", "values": [0,10,20,30,40,50,60,70,80,90,100,110,120,130,140,150,160,170,180,190,200,210,220,230,240,250,260,270,280,290,300,310,320,330,340,350], "labelExpr": "datum.value % 20 === 0 ? datum.label : ''", "labelAngle": 270, "labelAlign": "right", "labelBaseline": "middle", "labelFontSize": 14, "tickSize": -6, "tickWidth": 1, "labelPadding": 26, "offset": -105, "titleX": 510.5, "titleY": 85.5, "titleFontSize": 20}},
           "y": {"field": "r", "type": "quantitative", "scale": {"domain": [-0.8301, 1.8656], "nice": false, "zero": false},
                 "axis": {"title": "REFLECTANCE", "values": [0, 0.2, 0.4, 0.6, 0.8, 1], "format": "~g", "ticks": false, "labelFontSize": 16, "labelPadding": 16, "offset": -128.3, "titleX": -72, "titleY": 175}},
           "stroke": {"field": "series", "type": "nominal",
             "scale": {"domain": ["W1,SZN=20","W1,SZN=40","W1,SZN=60","W2,SZN=20","W2,SZN=40","W2,SZN=60"], "range": ["black","black","black","black","black","black"]},
             "legend": {"title": null, "orient": "none", "direction": "vertical", "legendX": 895, "legendY": 59, "strokeColor": "black", "padding": 5, "rowPadding": -0.7, "symbolType": "stroke", "symbolSize": 2700, "symbolStrokeWidth": 1.6, "symbolOffset": 5, "labelFont": "DejaVu Serif", "labelFontWeight": "bold", "labelFontSize": 17, "labelColor": "black", "labelOffset": 5, "labelLimit": 400}}
         }},
        {"data": {"name": "p2"}, "mark": {"type": "point", "filled": true, "stroke": "black", "strokeWidth": 1.3, "size": 165, "opacity": 1},
         "encoding": {
           "x": {"field": "az", "type": "quantitative"},
           "y": {"field": "r", "type": "quantitative"},
           "shape": {"field": "series", "type": "nominal", "scale": {"range": ["diamond", "square", "diamond", "triangle-up", "M-1,0L1,0M0,-1L0,1M-0.72,-0.72L0.72,0.72M-0.72,0.72L0.72,-0.72", "circle"]},
             "legend": {"title": null, "orient": "none", "direction": "vertical", "legendX": 908, "legendY": 69, "padding": 13, "rowPadding": 16.3, "symbolSize": 110, "labelExpr": "' '", "labelFont": "DejaVu Serif", "labelFontWeight": "bold", "labelFontSize": 17, "labelOffset": 3, "encode": {"symbols": {"stroke": {"value": "black"}, "strokeWidth": {"value": 1.2}}}}},
           "fill": {"field": "series", "type": "nominal", "scale": {"range": ["black", "black", "white", "black", "black", "black"]},
             "legend": {"title": null, "orient": "none", "direction": "vertical", "legendX": 908, "legendY": 69, "padding": 13, "rowPadding": 16.3, "symbolSize": 110, "labelExpr": "' '", "labelFont": "DejaVu Serif", "labelFontWeight": "bold", "labelFontSize": 17, "labelOffset": 3, "encode": {"symbols": {"stroke": {"value": "black"}, "strokeWidth": {"value": 1.2}}}}}
         }},
        {"data": {"values": [{}]}, "mark": {"type": "rule", "color": "black", "strokeWidth": 1.5},
         "encoding": {"x": {"datum": 0, "type": "quantitative"}, "x2": {"datum": 352}, "y": {"datum": 0, "type": "quantitative"}}},
        {"data": {"values": [{}]}, "mark": {"type": "rule", "color": "black", "strokeWidth": 1.5},
         "encoding": {"x": {"datum": 0, "type": "quantitative"}, "y": {"datum": 0, "type": "quantitative"}, "y2": {"datum": 1}}},
        {"data": {"values": [{"label": "VZN=60"}]}, "mark": {"type": "text", "align": "left", "baseline": "alphabetic", "font": "DejaVu Serif", "fontSize": 18},
         "encoding": {"text": {"field": "label"}, "x": {"datum": -29.69, "type": "quantitative"}, "y": {"datum": 1.518, "type": "quantitative"}}},
        {"data": {"values": [{"label": "back reflectance"}]}, "mark": {"type": "text", "align": "left", "baseline": "alphabetic", "font": "DejaVu Serif", "fontWeight": "bold", "fontSize": 20},
         "encoding": {"text": {"field": "label"}, "x": {"datum": 25.46, "type": "quantitative"}, "y": {"datum": 1.47, "type": "quantitative"}}}
      ]
    },
    {
      "width": 1117, "height": 359,
      "layer": [
        {"data": {"name": "p3"}, "mark": {"type": "line", "strokeWidth": 1.8},
         "encoding": {
           "x": {"field": "az", "type": "quantitative", "scale": {"domain": [-61.27, 466.4], "nice": false, "zero": false},
                 "axis": {"title": "VIEW AZIMUTH ANGLE", "values": [0,10,20,30,40,50,60,70,80,90,100,110,120,130,140,150,160,170,180,190,200,210,220,230,240,250,260,270,280,290,300,310,320,330,340,350], "labelExpr": "datum.value % 20 === 0 ? datum.label : ''", "labelAngle": 270, "labelAlign": "right", "labelBaseline": "middle", "labelFontSize": 14, "tickSize": -6, "tickWidth": 1, "labelPadding": 26, "offset": -111.3, "titleX": 500.5, "titleY": 74, "titleFontSize": 20}},
           "y": {"field": "r", "type": "quantitative", "scale": {"domain": [-0.527, 1.1728], "nice": false, "zero": false},
                 "axis": {"title": "REFLECTANCE", "values": [0, 0.2, 0.4, 0.6], "format": "~g", "ticks": false, "labelFontSize": 16, "labelPadding": 16, "offset": -129.7, "titleX": -73, "titleY": 186}},
           "stroke": {"field": "series", "type": "nominal",
             "scale": {"domain": ["W1,SZN=20","W1,SZN=40","W1,SZN=60","W2,SZN=20","W2,SZN=40","W2,SZN=60"], "range": ["black","black","black","black","black","black"]},
             "legend": {"title": null, "orient": "none", "direction": "vertical", "legendX": 899, "legendY": 39, "strokeColor": "black", "padding": 5, "rowPadding": -0.7, "symbolType": "stroke", "symbolSize": 2700, "symbolStrokeWidth": 1.6, "symbolOffset": 5, "labelFont": "DejaVu Serif", "labelFontWeight": "bold", "labelFontSize": 17, "labelColor": "black", "labelOffset": 5, "labelLimit": 400}}
         }},
        {"data": {"name": "p3"}, "mark": {"type": "point", "filled": true, "stroke": "black", "strokeWidth": 1.3, "size": 165, "opacity": 1},
         "encoding": {
           "x": {"field": "az", "type": "quantitative"},
           "y": {"field": "r", "type": "quantitative"},
           "shape": {"field": "series", "type": "nominal", "scale": {"range": ["diamond", "square", "diamond", "triangle-up", "M-1,0L1,0M0,-1L0,1M-0.72,-0.72L0.72,0.72M-0.72,0.72L0.72,-0.72", "circle"]},
             "legend": {"title": null, "orient": "none", "direction": "vertical", "legendX": 912, "legendY": 49, "padding": 13, "rowPadding": 16.3, "symbolSize": 110, "labelExpr": "' '", "labelFont": "DejaVu Serif", "labelFontWeight": "bold", "labelFontSize": 17, "labelOffset": 3, "encode": {"symbols": {"stroke": {"value": "black"}, "strokeWidth": {"value": 1.2}}}}},
           "fill": {"field": "series", "type": "nominal", "scale": {"range": ["black", "black", "white", "black", "black", "black"]},
             "legend": {"title": null, "orient": "none", "direction": "vertical", "legendX": 912, "legendY": 49, "padding": 13, "rowPadding": 16.3, "symbolSize": 110, "labelExpr": "' '", "labelFont": "DejaVu Serif", "labelFontWeight": "bold", "labelFontSize": 17, "labelOffset": 3, "encode": {"symbols": {"stroke": {"value": "black"}, "strokeWidth": {"value": 1.2}}}}}
         }},
        {"data": {"values": [{}]}, "mark": {"type": "rule", "color": "black", "strokeWidth": 1.5},
         "encoding": {"x": {"datum": 0, "type": "quantitative"}, "x2": {"datum": 352}, "y": {"datum": 0, "type": "quantitative"}}},
        {"data": {"values": [{}]}, "mark": {"type": "rule", "color": "black", "strokeWidth": 1.5},
         "encoding": {"x": {"datum": 0, "type": "quantitative"}, "y": {"datum": 0, "type": "quantitative"}, "y2": {"datum": 0.6}}},
        {"data": {"values": [{"label": "VZN=20"}]}, "mark": {"type": "text", "align": "left", "baseline": "alphabetic", "font": "DejaVu Serif", "fontSize": 18},
         "encoding": {"text": {"field": "label"}, "x": {"datum": -35.76, "type": "quantitative"}, "y": {"datum": 0.8035, "type": "quantitative"}}},
        {"data": {"values": [{"label": "face reflectance"}]}, "mark": {"type": "text", "align": "left", "baseline": "alphabetic", "font": "DejaVu Serif", "fontWeight": "bold", "fontSize": 20},
         "encoding": {"text": {"field": "label"}, "x": {"datum": 8.17, "type": "quantitative"}, "y": {"datum": 0.8698, "type": "quantitative"}}}
      ]
    },
    {
      "width": 1117, "height": 392,
      "layer": [
        {"data": {"name": "p4"}, "mark": {"type": "line", "strokeWidth": 1.8},
         "encoding": {
           "x": {"field": "az", "type": "quantitative", "scale": {"domain": [-60.99, 464.26], "nice": false, "zero": false},
                 "axis": {"title": "VIEW AZIMUTH ANGLE", "values": [0,10,20,30,40,50,60,70,80,90,100,110,120,130,140,150,160,170,180,190,200,210,220,230,240,250,260,270,280,290,300,310,320,330,340,350], "labelExpr": "datum.value % 20 === 0 ? datum.label : ''", "labelAngle": 270, "labelAlign": "right", "labelBaseline": "middle", "labelFontSize": 14, "tickSize": -6, "tickWidth": 1, "labelPadding": 26, "offset": -110.7, "titleX": 503.5, "titleY": 74, "titleFontSize": 20}},
           "y": {"field": "r", "type": "quantitative", "scale": {"domain": [-0.539, 1.3695], "nice": false, "zero": false},
                 "axis": {"title": "REFLECTANCE", "values": [0, 0.2, 0.4, 0.6, 0.8], "format": "~g", "ticks": false, "labelFontSize": 16, "labelPadding": 16, "offset": -129.7, "titleX": -73, "titleY": 199}},
           "stroke": {"field": "series", "type": "nominal",
             "scale": {"domain": ["W1,SZN=20","W1,SZN=40","W1,SZN=60","W2,SZN=20","W2,SZN=40","W2,SZN=60"], "range": ["black","black","black","black","black","black"]},
             "legend": {"title": null, "orient": "none", "direction": "vertical", "legendX": 905, "legendY": 82, "strokeColor": "black", "padding": 5, "rowPadding": -0.7, "symbolType": "stroke", "symbolSize": 2700, "symbolStrokeWidth": 1.6, "symbolOffset": 5, "labelFont": "DejaVu Serif", "labelFontWeight": "bold", "labelFontSize": 17, "labelColor": "black", "labelOffset": 5, "labelLimit": 400}}
         }},
        {"data": {"name": "p4"}, "mark": {"type": "point", "filled": true, "stroke": "black", "strokeWidth": 1.3, "size": 165, "opacity": 1},
         "encoding": {
           "x": {"field": "az", "type": "quantitative"},
           "y": {"field": "r", "type": "quantitative"},
           "shape": {"field": "series", "type": "nominal", "scale": {"range": ["diamond", "square", "diamond", "diamond", "M-1,0L1,0M0,-1L0,1M-0.72,-0.72L0.72,0.72M-0.72,0.72L0.72,-0.72", "circle"]},
             "legend": {"title": null, "orient": "none", "direction": "vertical", "legendX": 918, "legendY": 92, "padding": 13, "rowPadding": 16.3, "symbolSize": 110, "labelExpr": "' '", "labelFont": "DejaVu Serif", "labelFontWeight": "bold", "labelFontSize": 17, "labelOffset": 3, "encode": {"symbols": {"stroke": {"value": "black"}, "strokeWidth": {"value": 1.2}}}}},
           "fill": {"field": "series", "type": "nominal", "scale": {"range": ["black", "black", "white", "black", "black", "black"]},
             "legend": {"title": null, "orient": "none", "direction": "vertical", "legendX": 918, "legendY": 92, "padding": 13, "rowPadding": 16.3, "symbolSize": 110, "labelExpr": "' '", "labelFont": "DejaVu Serif", "labelFontWeight": "bold", "labelFontSize": 17, "labelOffset": 3, "encode": {"symbols": {"stroke": {"value": "black"}, "strokeWidth": {"value": 1.2}}}}}
         }},
        {"data": {"values": [{}]}, "mark": {"type": "rule", "color": "black", "strokeWidth": 1.5},
         "encoding": {"x": {"datum": 0, "type": "quantitative"}, "x2": {"datum": 352}, "y": {"datum": 0, "type": "quantitative"}}},
        {"data": {"values": [{}]}, "mark": {"type": "rule", "color": "black", "strokeWidth": 1.5},
         "encoding": {"x": {"datum": 0, "type": "quantitative"}, "y": {"datum": 0, "type": "quantitative"}, "y2": {"datum": 0.8}}},
        {"data": {"values": [{"label": "VZN=60"}]}, "mark": {"type": "text", "align": "left", "baseline": "alphabetic", "font": "DejaVu Serif", "fontSize": 18},
         "encoding": {"text": {"field": "label"}, "x": {"datum": -42.65, "type": "quantitative"}, "y": {"datum": 1.1017, "type": "quantitative"}}},
        {"data": {"values": [{"label": "face reflectance"}]}, "mark": {"type": "text", "align": "left", "baseline": "alphabetic", "font": "DejaVu Serif", "fontWeight": "bold", "fontSize": 20},
         "encoding": {"text": {"field": "label"}, "x": {"datum": 8.14, "type": "quantitative"}, "y": {"datum": 1.0823, "type": "quantitative"}}}
      ]
    }
  ]
}
